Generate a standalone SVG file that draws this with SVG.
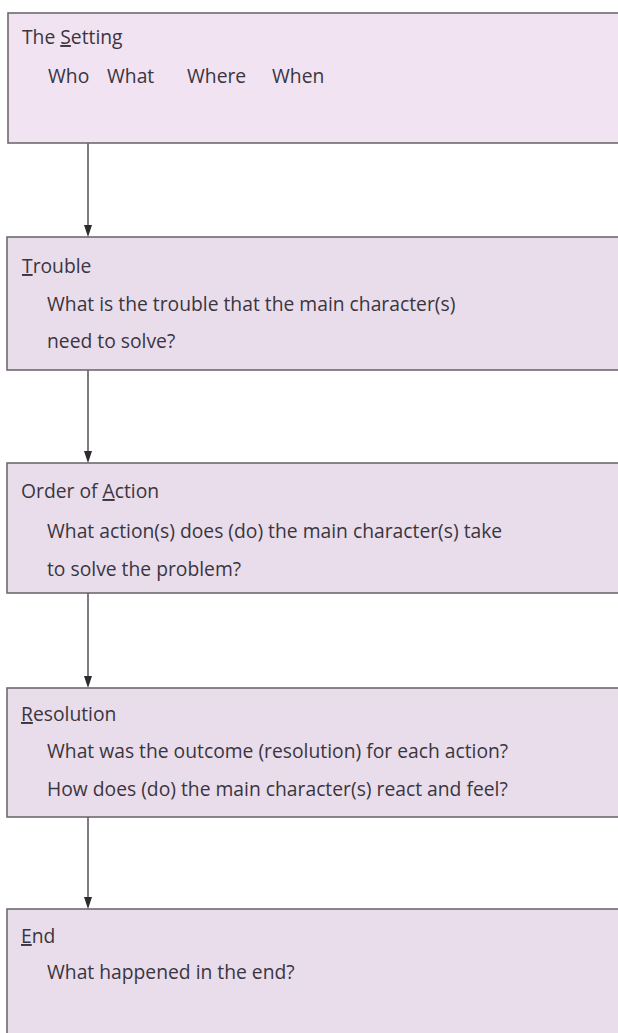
<svg xmlns="http://www.w3.org/2000/svg" width="618" height="1033" viewBox="0 0 618 1033">
<defs>
<style>
.box{fill:#e9ddeb;stroke:#6e6a70;stroke-width:1.6}
.t{font-family:"Open Sans","Liberation Sans",sans-serif;font-size:19.3px;fill:#3a3540}
.u{text-decoration:underline}
.c{stroke:#3a3540;stroke-width:1.3;fill:none}
.ah{fill:#2e2a30}
</style>
</defs>
<rect width="618" height="1033" fill="#ffffff"/>
<g id="connectors">
<line class="c" x1="88" y1="143" x2="88" y2="225"/>
<path class="ah" d="M84,225 L92,225 L88,237 Z"/>
<line class="c" x1="88" y1="370" x2="88" y2="451"/>
<path class="ah" d="M84,451 L92,451 L88,463 Z"/>
<line class="c" x1="88" y1="593" x2="88" y2="676"/>
<path class="ah" d="M84,676 L92,676 L88,688 Z"/>
<line class="c" x1="88" y1="817" x2="88" y2="897"/>
<path class="ah" d="M84,897 L92,897 L88,909 Z"/>
</g>
<g id="setting">
<rect class="box" x="8" y="13" width="620" height="130" style="fill:#f1e3f1"/>
<text class="t" x="22" y="44">The <tspan class="u">S</tspan>etting</text>
<text class="t" x="48" y="83">Who</text>
<text class="t" x="107" y="83">What</text>
<text class="t" x="187" y="83">Where</text>
<text class="t" x="272" y="83">When</text>
</g>
<g id="trouble">
<rect class="box" x="7" y="237" width="621" height="133"/>
<text class="t" x="22" y="273"><tspan class="u">T</tspan>rouble</text>
<text class="t" x="47" y="311">What is the trouble that the main character(s)</text>
<text class="t" x="47" y="348">need to solve?</text>
</g>
<g id="action">
<rect class="box" x="7" y="463" width="621" height="130"/>
<text class="t" x="21" y="498">Order of <tspan class="u">A</tspan>ction</text>
<text class="t" x="47" y="538">What action(s) does (do) the main character(s) take</text>
<text class="t" x="47" y="576">to solve the problem?</text>
</g>
<g id="resolution">
<rect class="box" x="7" y="688" width="621" height="129"/>
<text class="t" x="21" y="721"><tspan class="u">R</tspan>esolution</text>
<text class="t" x="47" y="758">What was the outcome (resolution) for each action?</text>
<text class="t" x="47" y="796">How does (do) the main character(s) react and feel?</text>
</g>
<g id="end">
<rect class="box" x="7" y="909" width="621" height="140"/>
<text class="t" x="21" y="943"><tspan class="u">E</tspan>nd</text>
<text class="t" x="47" y="979">What happened in the end?</text>
</g>
</svg>
